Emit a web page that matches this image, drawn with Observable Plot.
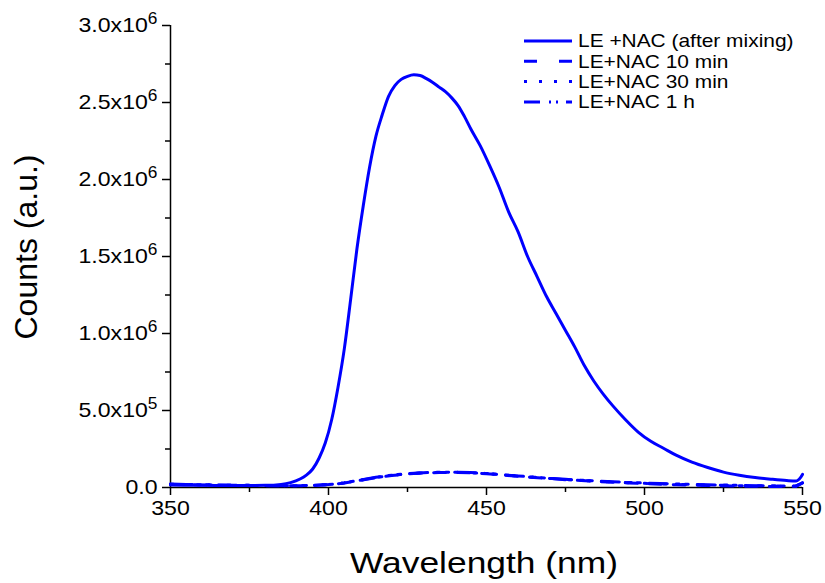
<!DOCTYPE html>
<html><head><meta charset="utf-8">
<script src="https://cdn.jsdelivr.net/npm/d3@7"></script>
<script src="https://cdn.jsdelivr.net/npm/@observablehq/plot@0.6"></script>
<style>body{margin:0;background:#fff;font-family:"Liberation Sans",Arial,sans-serif}</style>
</head><body><div id="chart"></div>
<script>
const seriesNames = ["LE +NAC (after mixing)", "LE+NAC 10 min", "LE+NAC 30 min", "LE+NAC 1 h"];
const mainWl = [350,360,370,380,385,388,391,393,395,397,399,401,403,405,407,409,411,413,415,417,419,421,423,425,427,429,431,433,435,437,439,441,443,445,448,451,454,457,460,463,466,469,472,475,478,481,484,487,490,494,498,502,506,510,515,520,525,530,535,540,545,548,549,550];
const mainVal = [0.016,0.014,0.013,0.014,0.02,0.032,0.055,0.08,0.12,0.19,0.29,0.44,0.65,0.9,1.22,1.55,1.83,2.08,2.28,2.42,2.54,2.61,2.65,2.67,2.68,2.675,2.655,2.63,2.6,2.57,2.53,2.48,2.41,2.33,2.22,2.09,1.95,1.79,1.66,1.5,1.37,1.24,1.13,1.02,0.91,0.79,0.69,0.605,0.53,0.44,0.36,0.3,0.255,0.21,0.165,0.13,0.1,0.08,0.065,0.054,0.045,0.042,0.055,0.085];
const lowWl = [350,355,360,365,370,375,380,385,390,395,400,405,410,415,420,425,430,435,440,445,450,455,460,465,470,475,480,485,490,495,500,505,510,515,520,525,530,535,540,545,548,550];
const val10 = [0.02,0.019,0.017,0.015,0.014,0.013,0.012,0.011,0.011,0.013,0.018,0.029,0.046,0.064,0.078,0.088,0.094,0.097,0.098,0.095,0.089,0.081,0.073,0.065,0.058,0.051,0.045,0.039,0.034,0.029,0.025,0.021,0.018,0.015,0.013,0.011,0.009,0.008,0.007,0.006,0.008,0.03];
const val30 = [0.021,0.02,0.018,0.016,0.015,0.014,0.013,0.012,0.012,0.014,0.019,0.03,0.047,0.065,0.079,0.089,0.095,0.098,0.099,0.096,0.09,0.082,0.074,0.066,0.059,0.052,0.046,0.041,0.036,0.031,0.027,0.024,0.021,0.018,0.016,0.014,0.012,0.011,0.01,0.009,0.01,0.03];
const val1h = [0.022,0.02,0.018,0.016,0.015,0.014,0.013,0.012,0.012,0.014,0.019,0.03,0.048,0.066,0.08,0.09,0.096,0.099,0.1,0.097,0.091,0.083,0.075,0.067,0.06,0.053,0.047,0.042,0.037,0.033,0.029,0.026,0.023,0.02,0.018,0.016,0.014,0.012,0.011,0.01,0.01,0.03];
const xTicks = [350,400,450,500,550];
const xMinor = [375,425,475,525];
const yTicks = [0,5e5,1e6,1.5e6,2e6,2.5e6,3e6];
const yMinor = [2.5e5,7.5e5,1.25e6,1.75e6,2.25e6,2.75e6];

const mk = (wl, v) => wl.map((w,i) => ({w, v: v[i]*1e6}));
const dMain = mk(mainWl, mainVal), d10 = mk(lowWl, val10), d30 = mk(lowWl, val30), d1h = mk(lowWl, val1h);
const dashes = [null, "12,12", "3,16", "18,9,3,6,3,9"];
const legendDashes = [null, "13,22", "3,12", "16,9,2,5,2,8"];
const blue = "#0000ff";

const fmtY = v => v === 0 ? "0.0" : (() => { const e = Math.floor(Math.log10(v)); return (v/10**e).toFixed(1) + "x10|" + e; })();

const plot = Plot.plot({
  width: 825, height: 583,
  marginLeft: 170, marginRight: 23, marginTop: 25, marginBottom: 96,
  style: {fontFamily: "Liberation Sans, Arial, sans-serif", fontSize: "21px", color: "#000", background: "#fff"},
  x: {domain: [350, 550]},
  y: {domain: [0, 3e6]},
  marks: [
    Plot.axisX({ticks: xTicks, tickSize: 8, tickPadding: 5, tickFormat: d => d, label: null, fontSize: 21, strokeWidth: 1.5}),
    Plot.axisX({ticks: xMinor, tickSize: 5, text: null, label: null, strokeWidth: 1.5}),
    Plot.axisY({ticks: yTicks, tickSize: 8, tickPadding: 5, tickFormat: fmtY, label: null, fontSize: 21, strokeWidth: 1.5}),
    Plot.axisY({ticks: yMinor, tickSize: 5, text: null, label: null, strokeWidth: 1.5}),
    Plot.ruleX([350], {stroke: "#000", strokeWidth: 1.5}),
    Plot.ruleY([0], {stroke: "#000", strokeWidth: 1.5}),
    Plot.line(d10, {x: "w", y: "v", stroke: blue, strokeWidth: 3, strokeDasharray: dashes[1]}),
    Plot.line(d30, {x: "w", y: "v", stroke: blue, strokeWidth: 3, strokeDasharray: dashes[2]}),
    Plot.line(d1h, {x: "w", y: "v", stroke: blue, strokeWidth: 3, strokeDasharray: dashes[3]}),
    Plot.line(dMain, {x: "w", y: "v", stroke: blue, strokeWidth: 3, curve: "monotone-x"})
  ]
});
document.getElementById("chart").appendChild(plot);

const widen = (el, f) => {
  const L = el.getComputedTextLength();
  el.setAttribute("textLength", (L * f).toFixed(1));
  el.setAttribute("lengthAdjust", "spacingAndGlyphs");
};

// superscript exponents
d3.select(plot).selectAll("g[aria-label='y-axis tick label'] text").each(function() {
  const t = this.textContent;
  if (t.includes("|")) {
    const [m, e] = t.split("|");
    this.textContent = m;
    d3.select(this).append("tspan").attr("dy", "-0.5em").attr("font-size", "0.75em").text(e);
  }
  widen(this, 1.1);
});
d3.select(plot).selectAll("g[aria-label='x-axis tick label'] text").each(function() { widen(this, 1.1); });

const svg = d3.select(plot);
// axis titles
svg.append("text").attr("x", 484).attr("y", 573).attr("text-anchor", "middle")
  .attr("font-size", 30).attr("fill", "#000").attr("textLength", 268).attr("lengthAdjust", "spacingAndGlyphs")
  .text("Wavelength (nm)");
svg.append("text").attr("transform", "translate(37,247) rotate(-90)").attr("text-anchor", "middle")
  .attr("font-size", 32).attr("fill", "#000").text("Counts (a.u.)");

// legend
const lg = svg.append("g").attr("font-size", 18.5).attr("text-anchor", "start");
seriesNames.forEach((name, i) => {
  const y = 41 + i * 20.3;
  lg.append("line").attr("x1", 524).attr("x2", 572).attr("y1", y).attr("y2", y)
    .attr("stroke", blue).attr("stroke-width", 3).attr("stroke-dasharray", legendDashes[i]);
  const t = lg.append("text").attr("x", 578).attr("y", y).attr("dy", "0.35em").attr("fill", "#000").text(name);
  widen(t.node(), 1.13);
});
</script></body></html>
